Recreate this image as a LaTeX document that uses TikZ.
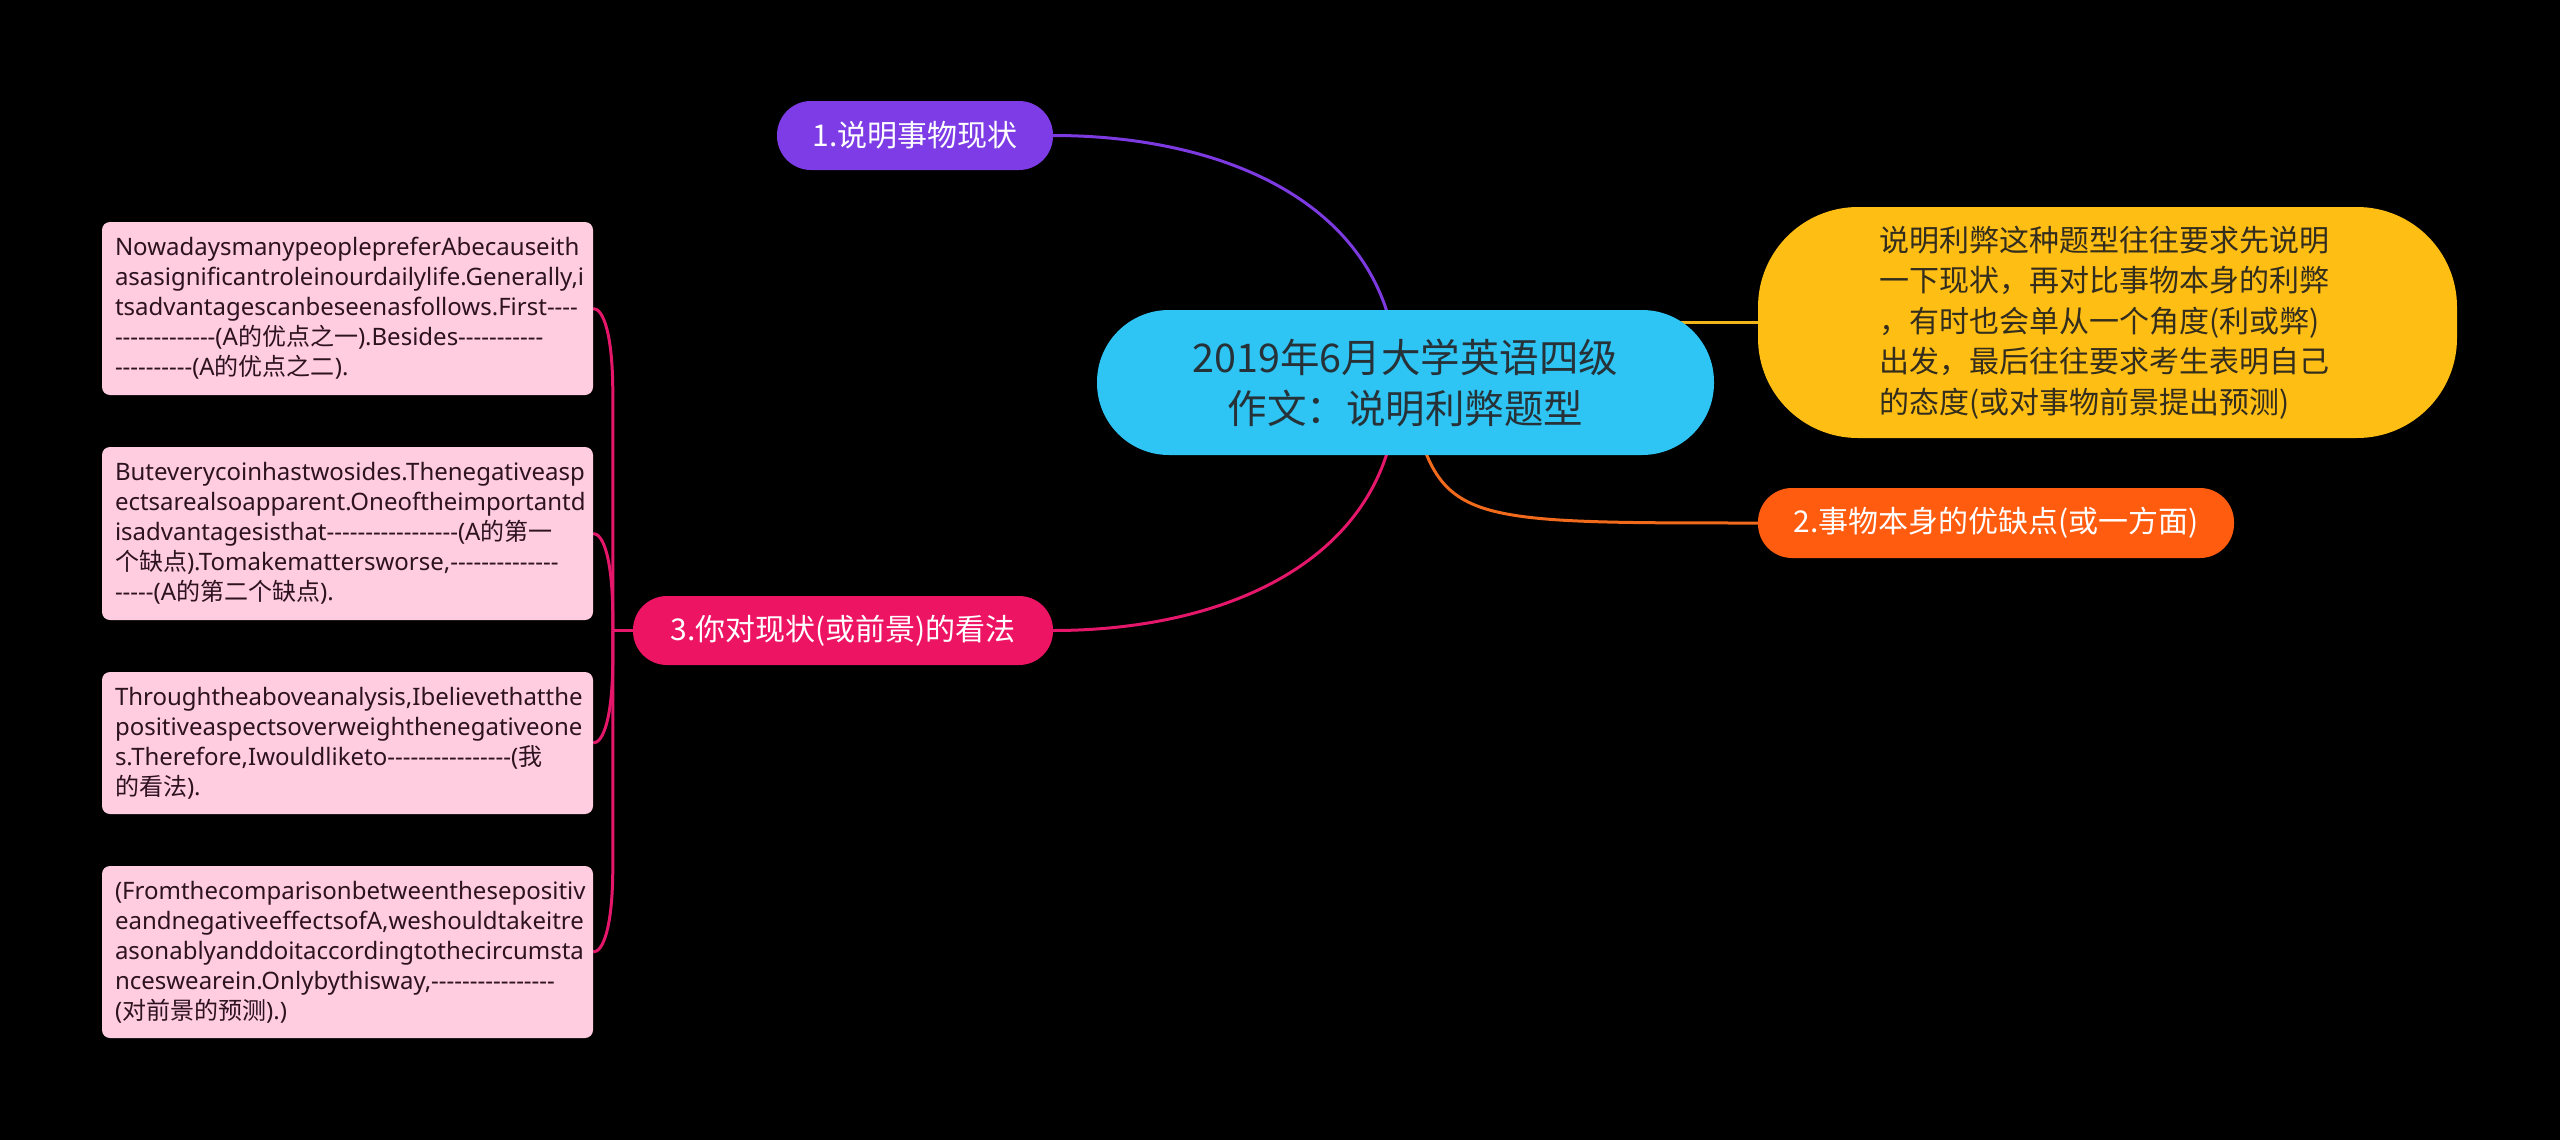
\documentclass[tikz,border=0pt]{standalone}
\usepackage{fontspec}
\setmainfont[Ligatures={TeXOff,CommonOff}]{Noto Sans}
\newfontfamily\cjk{Noto Sans CJK SC}
\usetikzlibrary{calc}
\definecolor{cyanc}{RGB}{46,196,243}
\definecolor{centertext}{RGB}{38,50,56}
\definecolor{purplec}{RGB}{125,60,230}
\definecolor{pinkc}{RGB}{238,20,100}
\definecolor{orangec}{RGB}{255,92,16}
\definecolor{yellowc}{RGB}{255,190,20}
\definecolor{boxpink}{RGB}{255,204,224}
\definecolor{boxtext}{RGB}{45,18,32}
\definecolor{yelltext}{RGB}{51,45,30}
\definecolor{purplel}{RGB}{124,58,224}
\definecolor{pinkl}{RGB}{229,23,107}
\definecolor{orangel}{RGB}{242,106,28}
\definecolor{yellowl}{RGB}{242,180,24}
\pgfdeclarelayer{bg}\pgfdeclarelayer{conn}\pgfsetlayers{bg,conn,main}
\begin{document}
\begin{tikzpicture}[x=1pt,y=-1pt,
  pill/.style={rectangle, inner sep=0pt, anchor=center},
  branch/.style={pill, text=white, font={\cjk\fontsize{30pt}{36pt}\selectfont}, minimum height=69pt, rounded corners=34pt},
  boxnode/.style={rectangle, rounded corners=8pt, fill=boxpink, text=boxtext, text width=465pt, inner xsep=13pt, inner ysep=0pt, align=left, minimum width=491pt, font={\fontsize{24pt}{30pt}\selectfont}},
  conn/.style={line width=3pt},
]
\begin{pgfonlayer}{bg}
\fill[black] (0,0) rectangle (2560,1140);
\end{pgfonlayer}
\useasboundingbox (0,0) rectangle (2560,1140);

% central
\node[pill, fill=cyanc, rounded corners=72pt, minimum width=617pt, minimum height=145pt, text=centertext, align=center, font={\cjk\fontsize{39.5pt}{51pt}\selectfont}] (central) at (1405.5,382.5) {2019年6月大学英语四级\\作文：说明利弊题型};

% branches
\node[branch, fill=purplec, minimum width=276pt] (n1) at (915,135.5) {1.说明事物现状};
\node[branch, fill=pinkc, minimum width=420pt] (n3) at (843,630.5) {3.你对现状(或前景)的看法};
\node[branch, fill=orangec, minimum width=476pt, minimum height=70pt] (n2) at (1996,523) {2.事物本身的优缺点(或一方面)};
\node[pill, fill=yellowc, rounded corners=100pt, minimum width=699pt, minimum height=231pt, text=yelltext, text width=456pt, align=left, font={\cjk\fontsize{30pt}{40.5pt}\selectfont}] (yellow) at (2107.5,322.5) {说明利弊这种题型往往要求先说明\\一下现状，再对比事物本身的利弊\\，有时也会单从一个角度(利或弊)\\出发，最后往往要求考生表明自己\\的态度(或对事物前景提出预测)};

% left boxes
\node[boxnode, minimum height=173pt] (b1) at (347.5,308.5) {NowadaysmanypeoplepreferAbecauseith\\asasignificantroleinourdailylife.Generally,i\\tsadvantagescanbeseenasfollows.First----\\-------------({A\cjk 的优点之一}).Besides-----------\\----------({A\cjk 的优点之二}).};
\node[boxnode, minimum height=173pt] (b2) at (347.5,533.5) {Buteverycoinhastwosides.Thenegativeasp\\ectsarealsoapparent.Oneoftheimportantd\\isadvantagesisthat-----------------({A\cjk 的第一}\\{\cjk 个缺点}).Tomakemattersworse,--------------\\-----({A\cjk 的第二个缺点}).};
\node[boxnode, minimum height=142pt] (b3) at (347.5,743) {Throughtheaboveanalysis,Ibelievethatthe\\positiveaspectsoverweighthenegativeone\\s.Therefore,Iwouldliketo----------------({\cjk 我}\\{\cjk 的看法}).};
\node[boxnode, minimum height=172pt] (b4) at (347.5,952) {(Fromthecomparisonbetweenthesepositiv\\eandnegativeeffectsofA,weshouldtakeitre\\asonablyanddoitaccordingtothecircumsta\\nceswearein.Onlybythisway,----------------\\({\cjk 对前景的预测}).)};

\begin{pgfonlayer}{conn}
\coordinate (ctop) at ($(central.center)+(-8,0)$);
\draw[conn, purplel] (n1.east) .. controls +(180,0) and ($(ctop)+(0,-172)$) .. (ctop);
\draw[conn, pinkl] (n3.east) .. controls +(180,0) and ($(ctop)+(0,172)$) .. (ctop);
\draw[conn, orangel] (central.center) .. controls ($(central.center |- n2.west)+(35,0)$) .. (n2.west);
\draw[conn, yellowl] (central.center |- yellow.west) -- (yellow.west);
\coordinate (J) at ($(n3.west)+(-20,0)$);
\draw[conn, pinkl] (n3.west) -- (J);
\draw[conn, pinkl] (J) -- ($(J |- b1.east)+(0,85)$) .. controls ($(J |- b1.east)+(0,25)$) and ($(b1.east)+(10,0)$) .. (b1.east);
\draw[conn, pinkl] (J) -- ($(J |- b2.east)+(0,85)$) .. controls ($(J |- b2.east)+(0,25)$) and ($(b2.east)+(10,0)$) .. (b2.east);
\draw[conn, pinkl] (J) -- ($(J |- b3.east)+(0,-85)$) .. controls ($(J |- b3.east)+(0,-25)$) and ($(b3.east)+(10,0)$) .. (b3.east);
\draw[conn, pinkl] (J) -- ($(J |- b4.east)+(0,-85)$) .. controls ($(J |- b4.east)+(0,-25)$) and ($(b4.east)+(10,0)$) .. (b4.east);
\end{pgfonlayer}
\end{tikzpicture}
\end{document}
